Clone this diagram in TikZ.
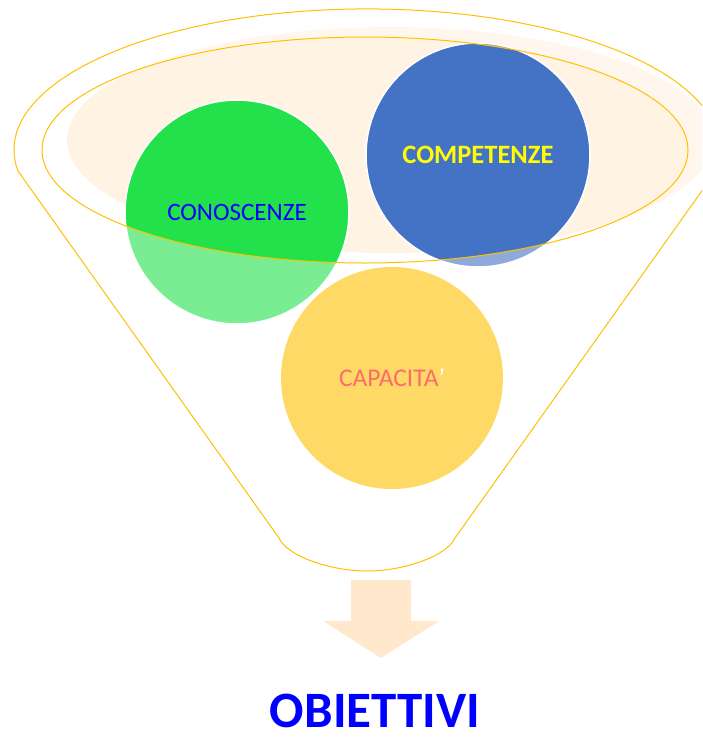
\documentclass[tikz,border=0pt]{standalone}
\usepackage{fontspec}
\setmainfont{Carlito}
\definecolor{gold}{HTML}{FFC000}
\definecolor{beige}{HTML}{FFF3E4}
\definecolor{cgreen}{HTML}{22E14A}
\definecolor{cblue}{HTML}{4472C4}
\definecolor{cyellow}{HTML}{FFD966}
\definecolor{coral}{HTML}{FF6B6B}
\definecolor{arrowc}{HTML}{FFE8CC}
\definecolor{pureblue}{HTML}{0000FF}
\definecolor{pureyellow}{HTML}{FFFF00}
\begin{document}
\begin{tikzpicture}[x=1pt,y=1pt,
  ball/.style={circle, draw=white, line width=1.5pt, inner sep=0pt, minimum size=224pt},
  rim/.style={draw=gold, line width=1pt},
]
\useasboundingbox (0,0) rectangle (702,-739);
\begin{scope}
\clip (0,0) rectangle (702,-739);
% beige inner fill
\fill[beige] (390,-140) ellipse [x radius=323pt, y radius=113pt];
% circles behind the rim
\node[ball, fill=cgreen, text=pureblue, font=\fontsize{25}{29}\selectfont] (con) at (237,-212) {CONOSCENZE};
\node[ball, fill=cblue, text=pureyellow, font=\fontsize{26.5}{30}\selectfont\bfseries] (com) at (478,-155) {COMPETENZE};
% translucent funnel body
\fill[white, opacity=0.4, even odd rule]
  (18,-171) arc[start angle=188.6, end angle=-8.6, x radius=353pt, y radius=141pt]
  -- (455,-538) .. controls (447,-556) and (404,-571) .. (367,-571)
  .. controls (330,-571) and (287,-556) .. (279,-538) -- cycle
  (365,-150) ellipse [x radius=323pt, y radius=113pt];
% outlines
\draw[rim]
  (18,-171) arc[start angle=188.6, end angle=-8.6, x radius=353pt, y radius=141pt]
  -- (455,-538) .. controls (447,-556) and (404,-571) .. (367,-571)
  .. controls (330,-571) and (287,-556) .. (279,-538) -- cycle;
\draw[rim] (365,-150) ellipse [x radius=323pt, y radius=113pt];
% yellow circle
\node[ball, draw=none, fill=cyellow, text=coral, minimum size=222pt, font=\fontsize{25.5}{29}\selectfont] (cap) at (392,-378) {CAPACITA\textcolor{white}{’}};
\end{scope}
% arrow
\fill[arrowc] (351,-580) -- (411,-580) -- (411,-621) -- (439,-621) -- (381,-658) -- (323,-621) -- (351,-621) -- cycle;
\node[anchor=base, inner sep=0pt, text=pureblue, font=\fontsize{51}{58}\selectfont\bfseries] (obj) at (375,-727) {OBIETTIVI};
\end{tikzpicture}
\end{document}
